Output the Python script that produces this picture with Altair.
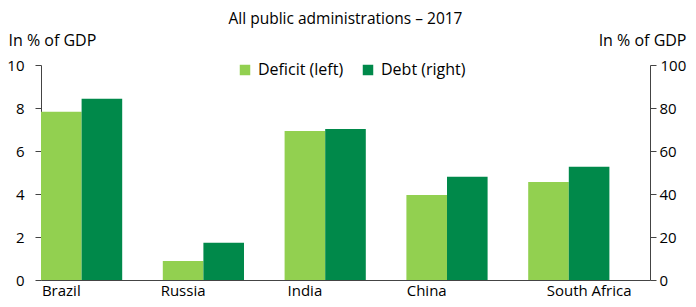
import altair as alt
import pandas as pd

countries = ["Brazil", "Russia", "India", "China", "South Africa"]
deficit = [7.83, 0.88, 6.93, 3.95, 4.56]
debt = [84.3, 17.3, 70.2, 48.0, 52.7]
series = ["Deficit (left)", "Debt (right)"]
colors = ["#92D050", "#00894A"]

rows = []
for c, d, b in zip(countries, deficit, debt):
    rows.append({"country": c, "series": series[0], "value": d})
    rows.append({"country": c, "series": series[1], "value": b})
df = pd.DataFrame(rows)

FONT = "Open Sans"
AX = "#444444"

x = alt.X(
    "country:N", sort=countries,
    scale=alt.Scale(paddingInner=0, paddingOuter=0),
    axis=alt.Axis(
        title=None, ticks=False, labelAngle=0, domainColor=AX, domainWidth=1,
        labelFontSize=15, labelColor="#000", labelPadding=3,
        labelOffset={"condition": {"test": "datum.value === 'South Africa'", "value": 0}, "value": -40.6},
    ),
)
xo = alt.XOffset(
    "series:N",
    scale=alt.Scale(domain=series + ["_"], paddingInner=0, paddingOuter=0),
)
color = alt.Color(
    "series:N",
    scale=alt.Scale(domain=series, range=colors),
    legend=alt.Legend(
        orient="none", legendX=196, legendY=-3, direction="horizontal", title=None,
        symbolType="square", symbolSize=110, symbolStrokeWidth=0,
        labelFontSize=16, labelColor="#000", columnPadding=16, labelOffset=5,
    ),
)

common_axis = dict(
    grid=False, tickSize=6, tickColor=AX, domainColor=AX, labelFontSize=15,
    labelColor="#000", titleAngle=0, titleFontSize=16, titleFontWeight="normal",
    titleColor="#000", titleBaseline="middle", titleY=-25,
)

left = alt.Chart(df).transform_filter(alt.datum.series == series[0]).mark_bar().encode(
    x=x, xOffset=xo, color=color,
    y=alt.Y("value:Q", scale=alt.Scale(domain=[0, 10]),
            axis=alt.Axis(orient="left", values=[0, 2, 4, 6, 8, 10], title="In % of GDP",
                          titleAlign="left", titleX=-33, labelPadding=11, **common_axis)),
)
right = alt.Chart(df).transform_filter(alt.datum.series == series[1]).mark_bar().encode(
    x=x, xOffset=xo, color=color,
    y=alt.Y("value:Q", scale=alt.Scale(domain=[0, 100]),
            axis=alt.Axis(orient="right", values=[0, 20, 40, 60, 80, 100], title="In % of GDP",
                          titleAlign="right", titleX=36,
                          labelPadding={"condition": {"test": "datum.value === 100", "value": 4}, "value": 3},
                          **common_axis)),
)

chart = alt.layer(left, right).resolve_scale(y="independent").properties(
    width=609, height=215,
    autosize="none",
    padding={"left": 33, "top": 57, "right": 38, "bottom": 19},
    title=alt.TitleParams("All public administrations \u2013 2017", fontSize=15.5,
                          fontWeight="normal", color="#000", anchor="middle", offset=5),
).configure(font=FONT).configure_view(stroke=None)

chart.save("out.html", embed_options={"renderer": "svg", "actions": False})
